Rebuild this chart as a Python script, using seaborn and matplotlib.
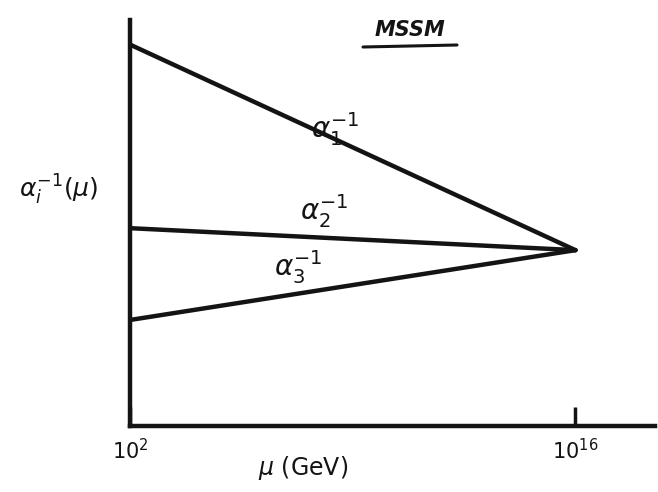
import numpy as np
import pandas as pd
import seaborn as sns
import matplotlib
matplotlib.use("Agg")
import matplotlib.pyplot as plt

# Running of the inverse gauge couplings in the MSSM (schematic)
mu_gev = [1e2, 1e16]
alpha1_inv = [59.0, 27.2]
alpha2_inv = [30.6, 27.2]
alpha3_inv = [16.4, 27.2]
couplings = [r"$\alpha_1^{-1}$", r"$\alpha_2^{-1}$", r"$\alpha_3^{-1}$"]
tick_labels = [r"$10^2$", r"$10^{16}$"]

df = pd.DataFrame({
    "mu": mu_gev * 3,
    "alpha_inv": alpha1_inv + alpha2_inv + alpha3_inv,
    "coupling": [c for c in couplings for _ in mu_gev],
})

sns.set_style("white")
plt.rcParams["font.family"] = ["DejaVu Sans"]
plt.rcParams["mathtext.fontset"] = "dejavusans"

ink = "#141414"
fig = plt.figure(figsize=(6.58, 4.92), dpi=100)
ax = fig.add_axes([130 / 658, 1 - 426 / 492, 525 / 658, 406 / 492])

sns.lineplot(data=df, x="mu", y="alpha_inv", hue="coupling",
             palette=[ink] * 3, linewidth=3.2, legend=False, ax=ax)

ax.set_xscale("log")
ax.set_xlim(1e2, 10 ** 18.5)
ax.set_ylim(0, 62.8)

for side in ("top", "right"):
    ax.spines[side].set_visible(False)
for side in ("left", "bottom"):
    ax.spines[side].set_linewidth(3.2)
    ax.spines[side].set_color(ink)

ax.set_xticks(mu_gev)
ax.set_xticklabels(tick_labels, fontsize=15)
ax.minorticks_off()
ax.tick_params(axis="x", bottom=True, direction="in", length=14, width=2.5,
               color=ink, labelcolor=ink, pad=9)
ax.set_yticks([])

ax.set_xlabel(r"$\mu$ (GeV)", fontsize=17, color=ink)
ax.xaxis.set_label_coords(0.33, -0.07)
ax.set_ylabel(r"$\alpha_i^{-1}(\mu)$", fontsize=18, rotation=0, color=ink)
ax.yaxis.set_label_coords(-0.135, 0.54)

# curve labels
label_pos = [(10 ** 8.45, 46.0), (10 ** 8.1, 33.3), (10 ** 7.3, 24.6)]
for name, (x, y) in zip(couplings, label_pos):
    ax.text(x, y, name, fontsize=20, color=ink, ha="center", va="center")

# underlined title
fig.text(410 / 658, 1 - 30 / 492, "MSSM", fontsize=15, fontweight="bold",
         fontstyle="italic", color=ink, ha="center", va="center")
fig.add_artist(plt.Line2D([363 / 658, 457 / 658], [1 - 47 / 492, 1 - 45 / 492],
                          color=ink, linewidth=2.2, transform=fig.transFigure))

fig.savefig("out.png", dpi=100, facecolor="white")
